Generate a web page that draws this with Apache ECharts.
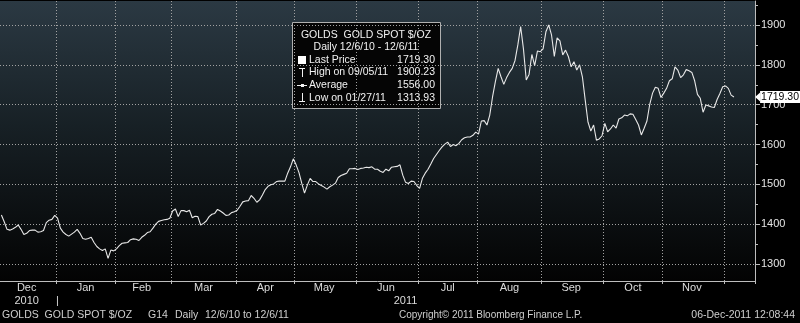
<!DOCTYPE html>
<html>
<head>
<meta charset="utf-8">
<script src="https://cdn.jsdelivr.net/npm/echarts@6/dist/echarts.min.js"></script>
<style>
html,body{margin:0;padding:0;background:#000;}
#chart{width:800px;height:323px;}
</style>
</head>
<body>
<div id="chart"></div>
<script>
// ---------- data ----------
const firstDay = '2010-12-06';
const lastAxisDay = '2011-12-15';   // axis continues a few empty days past the last price
const monthLabels = ['Dec','Jan','Feb','Mar','Apr','May','Jun','Jul','Aug','Sep','Oct','Nov'];
const yearLabels = ['2010','2011'];
const yTickValues = [1300,1400,1500,1600,1700,1800,1900];
const yMinorTickValues = [1350,1450,1550,1650,1750,1850,1950];

const priceDec10 = [1423,1406,1387,1385,1388,1392,1398,1387,1374,1377,1384,1385,1385,1380,1381,1384,1404,1410,1412,1422];
const priceJan11 = [1415,1390,1380,1374,1370,1375,1380,1387,1377,1364,1362,1364,1367,1354,1344,1338,1334,1338,1313.93,1335,1333];
const priceFeb11 = [1338,1346,1352,1353,1354,1361,1363,1362,1359,1367,1372,1379,1381,1390,1400,1407,1409,1411,1412,1415];
const priceMar11 = [1433,1438,1419,1434,1434,1431,1435,1416,1420,1419,1398,1402,1408,1419,1425,1427,1437,1433,1428,1422,1423,1429,1431];
const priceApr11 = [1435,1445,1456,1458,1459,1472,1465,1455,1461,1473,1487,1495,1499,1501,1507,1508,1508,1508,1528,1544,1564];
const priceMay11 = [1549,1530,1503,1478,1498,1515,1507,1507,1501,1497,1493,1488,1494,1498,1503,1517,1522,1525,1528,1539,1539,1540];
const priceJun11 = [1537,1540,1541,1543,1542,1544,1538,1538,1533,1530,1538,1534,1543,1544,1545,1549,1523,1505,1502,1508,1507,1497];
const priceJul11 = [1490,1515,1528,1538,1551,1565,1575,1585,1594,1601,1606,1595,1600,1597,1603,1612,1617,1619,1619,1623,1631];
const priceAug11 = [1626,1659,1660,1649,1674,1720,1758,1791,1770,1751,1768,1781,1791,1811,1850,1896,1840,1762,1776,1826,1798,1835,1833];
const priceSep11 = [1840,1883,1900.23,1875,1821,1868,1860,1825,1837,1821,1795,1808,1787,1800,1770,1712,1656,1634,1649,1611,1614,1622];
const priceOct11 = [1653,1632,1639,1649,1641,1664,1667,1674,1672,1677,1676,1663,1649,1624,1641,1659,1701,1729,1744,1741,1718];
const priceNov11 = [1729,1741,1760,1765,1795,1787,1768,1775,1788,1785,1781,1760,1726,1716,1681,1699,1697,1694,1693,1713,1728,1745];
const priceDec11 = [1747,1741,1724,1719.30];

const lastPrice = 1719.30;
const legendTitle = ['GOLDS  GOLD SPOT $/OZ', 'Daily 12/6/10 - 12/6/11'];
const legendLabels = ['Last Price', 'High on 09/05/11', 'Average', 'Low on 01/27/11'];
const legendValues = ['1719.30', '1900.23', '1556.00', '1313.93'];
const footerLeft = ['GOLDS  GOLD SPOT $/OZ', 'G14', 'Daily', '12/6/10 to 12/6/11'];
const footerCenter = 'Copyright\u00A9 2011 Bloomberg Finance L.P.';
const footerRight = '06-Dec-2011 12:08:44';

// ---------- derived ----------
function weekdays(a, b) {
  const out = [];
  let d = new Date(a + 'T00:00:00Z');
  const end = new Date(b + 'T00:00:00Z');
  while (d <= end) {
    const w = d.getUTCDay();
    if (w !== 0 && w !== 6) out.push(d.toISOString().slice(0, 10));
    d = new Date(d.getTime() + 86400000);
  }
  return out;
}
const dates = weekdays(firstDay, lastAxisDay);
const prices = [].concat(priceDec10, priceJan11, priceFeb11, priceMar11, priceApr11, priceMay11,
  priceJun11, priceJul11, priceAug11, priceSep11, priceOct11, priceNov11, priceDec11);

// month segments
const monthStarts = [];
dates.forEach((d, i) => { if (i === 0 || d.slice(0, 7) !== dates[i - 1].slice(0, 7)) monthStarts.push(i); });
const monthStartSet = new Set(monthStarts.slice(1));
const monthLabelMap = new Map();
monthStarts.forEach((s, k) => {
  const e = k + 1 < monthStarts.length ? monthStarts[k + 1] - 1 : dates.length - 1;
  if (k < monthLabels.length) monthLabelMap.set(Math.floor((s + e) / 2), monthLabels[k]);
});
// year segments
const yearStarts = [];
dates.forEach((d, i) => { if (i === 0 || d.slice(0, 4) !== dates[i - 1].slice(0, 4)) yearStarts.push(i); });
const yearLabelMap = new Map();
yearStarts.forEach((s, k) => {
  const e = k + 1 < yearStarts.length ? yearStarts[k + 1] - 1 : dates.length - 1;
  yearLabelMap.set(Math.floor((s + e) / 2), yearLabels[k]);
  if (k > 0) yearLabelMap.set(s, '|');
});

// ---------- chart ----------
const FONT = '"Liberation Sans", Arial, sans-serif';
const TXT = '#f2f2f2';
const AX = '#bdbdbd';
const GRIDC = '#a2a2a2';
const chart = echarts.init(document.getElementById('chart'), null, {renderer: 'canvas'});

const lx = 292, ly = 22, lw = 148, lh = 86;
const rowY = [60, 72.6, 85.2, 97.8];
const LF = '10.5px ' + FONT;
const txt = (t, x, y, align, font, fill) => ({type: 'text', x, y,
  style: {text: t, font, fill, align, verticalAlign: 'middle', textAlign: align, textVerticalAlign: 'middle'}});
const legendChildren = [
  {type: 'rect', shape: {x: lx + 0.5, y: ly + 0.5, width: lw, height: lh},
   style: {fill: '#050505', stroke: '#b0b0b0', lineWidth: 1}},
  txt(legendTitle[0], lx + lw / 2, 35, 'center', LF, TXT),
  txt(legendTitle[1], lx + lw / 2, 47.5, 'center', LF, TXT),
  // icons
  {type: 'rect', shape: {x: 298, y: 56, width: 8, height: 8}, style: {fill: '#ffffff'}},
  {type: 'line', shape: {x1: 299, y1: 68.5, x2: 305, y2: 68.5}, style: {stroke: TXT, lineWidth: 1}},
  {type: 'line', shape: {x1: 302.5, y1: 68.5, x2: 302.5, y2: 77}, style: {stroke: TXT, lineWidth: 1}},
  {type: 'line', shape: {x1: 297, y1: 85.5, x2: 307, y2: 85.5}, style: {stroke: TXT, lineWidth: 1}},
  {type: 'rect', shape: {x: 301, y: 84, width: 3, height: 3}, style: {fill: TXT}},
  {type: 'line', shape: {x1: 302.5, y1: 93, x2: 302.5, y2: 101.5}, style: {stroke: TXT, lineWidth: 1}},
  {type: 'line', shape: {x1: 299, y1: 101.5, x2: 305, y2: 101.5}, style: {stroke: TXT, lineWidth: 1}}
];
legendLabels.forEach((t, k) => {
  legendChildren.push(txt(t, 309, rowY[k], 'left', LF, TXT));
  legendChildren.push(txt(legendValues[k], 435, rowY[k], 'right', LF, TXT));
});

const FF = '10.5px ' + FONT;
const FC = '#cfcfcf';
const footerX = [2, 148, 175, 205];
const footerChildren = footerLeft.map((t, k) => txt(t, footerX[k], 315, 'left', FF, FC));
footerChildren.push(txt(footerCenter, 399, 315, 'left', '10px ' + FONT, FC));
footerChildren.push(txt(footerRight, 795, 315, 'right', '10.5px ' + FONT, FC));

const option = {
  backgroundColor: '#000',
  animation: false,
  grid: {
    left: 0, right: 45, top: 1, bottom: 42,
    show: true, borderWidth: 0,
    backgroundColor: {type: 'linear', x: 0, y: 0, x2: 0, y2: 1,
      colorStops: [{offset: 0, color: '#2b3943'}, {offset: 0.45, color: '#172025'}, {offset: 1, color: '#030303'}]}
  },
  xAxis: [{
    type: 'category', data: dates, boundaryGap: true, position: 'bottom',
    axisLine: {show: true, lineStyle: {color: AX, width: 1}},
    axisTick: {show: true, interval: (i) => monthStartSet.has(i), length: 3, lineStyle: {color: AX}},
    axisLabel: {show: true, interval: (i) => monthLabelMap.has(i), formatter: (v, i) => monthLabelMap.get(i) || '',
      color: '#dcdcdc', fontFamily: FONT, fontSize: 11, margin: 1},
    splitLine: {show: true, interval: (i) => monthStartSet.has(i), lineStyle: {color: GRIDC, width: 1, type: [1, 2]}}
  }, {
    type: 'category', data: dates, boundaryGap: true, position: 'bottom',
    axisLine: {show: false}, axisTick: {show: false}, splitLine: {show: false},
    axisLabel: {show: true, interval: (i) => yearLabelMap.has(i), formatter: (v, i) => yearLabelMap.get(i) || '',
      color: '#dcdcdc', fontFamily: FONT, fontSize: 11, margin: 14}
  }],
  yAxis: [{
    type: 'value', position: 'right', min: 1257.3, max: 1960.3,
    axisLine: {show: true, lineStyle: {color: AX, width: 1}},
    axisTick: {show: true, customValues: yTickValues, length: 5, lineStyle: {color: AX}},
    axisLabel: {show: true, customValues: yTickValues, formatter: (v) => String(Math.round(v)),
      color: '#e4e4e4', fontFamily: FONT, fontSize: 11, margin: 6},
    splitLine: {show: true, lineStyle: {color: GRIDC, width: 1, type: [1, 2]}}
  }, {
    type: 'value', position: 'right', min: 1257.3, max: 1960.3,
    axisLine: {show: false}, splitLine: {show: false}, axisLabel: {show: false},
    axisTick: {show: true, customValues: yMinorTickValues, length: 3, lineStyle: {color: AX}}
  }],
  series: [{
    type: 'line', data: prices, xAxisIndex: 0, yAxisIndex: 0,
    symbol: 'none', showSymbol: false,
    lineStyle: {color: '#e8e8e8', width: 1.1},
    markPoint: {
      silent: true, animation: false,
      symbol: 'triangle', symbolRotate: 90, symbolSize: [9, 5], symbolOffset: [4, 0],
      itemStyle: {color: '#ffffff'},
      label: {show: true, position: 'right', distance: 0, formatter: lastPrice.toFixed(2),
        backgroundColor: '#ffffff', color: '#000', fontFamily: FONT, fontSize: 10.5, padding: [1, 1, 0, 1]},
      data: [{coord: [dates[dates.length - 1], lastPrice]}]
    }
  }],
  graphic: [
    {type: 'group', children: legendChildren, z: 100},
    {type: 'group', children: footerChildren, z: 100}
  ]
};
chart.setOption(option);
</script>
</body>
</html>
